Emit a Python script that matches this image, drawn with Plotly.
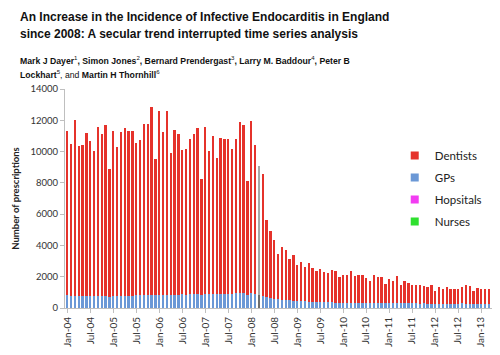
import plotly.graph_objects as go
import pandas as pd

# ---------------- data ----------------
months = [d.strftime("%b-%y") for d in pd.date_range("2004-01-01", "2013-05-01", freq="MS")]
tick_labels = months[::6]

gps = [
    800, 780, 790, 760, 770, 760, 750, 740, 770, 760, 770, 730,
    750, 770, 780, 790, 770, 780, 800, 810, 820, 830, 850, 800,
    840, 830, 860, 850, 840, 860, 870, 850, 880, 890, 900, 830,
    890, 870, 890, 900, 880, 910, 890, 910, 930, 940, 960, 860,
    970, 910, 830, 760, 700, 640, 590, 560, 540, 510, 490, 460,
    450, 430, 420, 410, 400, 390, 380, 370, 380, 360, 350, 340,
    350, 340, 330, 340, 330, 320, 330, 320, 310, 320, 310, 300,
    310, 300, 310, 300, 290, 300, 290, 290, 280, 290, 280, 270,
    270, 280, 270, 280, 270, 270, 280, 290, 280, 270, 280, 270,
    280, 270, 280, 270, 280,
]

dentists = [
    10500, 9720, 11210, 9590, 9630, 10440, 9900, 9320, 10780, 10360, 10950, 8170,
    10590, 9540, 10470, 10710, 10530, 10520, 9750, 9930, 10940, 10930, 11980, 8700,
    11730, 10420, 11710, 9040, 10540, 10260, 9230, 9290, 9900, 10230, 10600, 7400,
    10700, 9150, 10110, 8710, 9990, 9910, 9930, 9280, 9890, 10950, 10760, 7260,
    10960, 9490, 8270, 7830, 4920, 4270, 3750, 2890, 3340, 3200, 2660, 2910,
    2280, 2510, 2230, 2450, 2160, 2000, 2100, 1960, 1840, 2070, 2040, 1660,
    1740, 1750, 2010, 1710, 1760, 1770, 1590, 1430, 1820, 1640, 1650, 1230,
    1520, 1400, 1740, 1150, 1410, 1320, 1160, 1160, 1210, 1120, 1080, 1180,
    840, 1080, 970, 1040, 920, 920, 910, 1030, 1170, 1140, 790, 1010,
    960, 970, 960, 920, 1000,
]

hospitals = [0] * len(months)
nurses = [0] * len(months)

highlight_month = "Mar-08"

# ---------------- styles ----------------
RED = "#e5322b"
BLUE = "#6b98d6"
PINK = "#f23cf2"
GREEN = "#2fe02f"
HL_TOP = "#a9a9a9"
HL_BOT = "#6e6e6e"

dent_colors = [HL_TOP if m == highlight_month else RED for m in months]
gp_colors = [HL_BOT if m == highlight_month else BLUE for m in months]

fig = go.Figure()
fig.add_bar(x=months, y=gps, name="GPs", marker=dict(color=gp_colors, line_width=0),
            showlegend=False, legendgroup="g")
fig.add_bar(x=months, y=dentists, name="Dentists", marker=dict(color=dent_colors, line_width=0),
            showlegend=False, legendgroup="d")
fig.add_bar(x=months, y=hospitals, name="Hopsitals", marker=dict(color=PINK, line_width=0),
            showlegend=False, legendgroup="h")
fig.add_bar(x=months, y=nurses, name="Nurses", marker=dict(color=GREEN, line_width=0),
            showlegend=False, legendgroup="n")

# legend entries (small square keys)
for name, col, grp in [("Dentists", RED, "d"), ("GPs", BLUE, "g"),
                       ("Hopsitals", PINK, "h"), ("Nurses", GREEN, "n")]:
    fig.add_scatter(x=[None], y=[None], mode="markers", name=name, legendgroup=grp,
                    marker=dict(symbol="square", size=8, color=col))

fig.update_layout(
    width=500, height=355,
    margin=dict(l=57, r=8, t=81, b=55),
    paper_bgcolor="white", plot_bgcolor="white",
    barmode="stack", bargap=0.4,
    font=dict(family="Lato, Liberation Sans, sans-serif", color="#333333"),
    legend=dict(x=0.758, y=0.763, xanchor="left", yanchor="top",
                font=dict(size=11.5, family="Lato, sans-serif", color="#222222"),
                tracegroupgap=3, bgcolor="rgba(0,0,0,0)"),
    showlegend=True,
)

fig.update_xaxes(
    type="category", categoryorder="array", categoryarray=months,
    range=[-0.6, len(months) - 0.1],
    tickmode="array", tickvals=tick_labels, ticktext=tick_labels,
    tickangle=-90, tickfont=dict(size=10, color="#333333"),
    ticks="outside", ticklen=4, tickcolor="#bfbfbf",
    showline=True, linecolor="#bfbfbf", linewidth=1,
    showgrid=False, zeroline=False,
)
fig.update_yaxes(
    range=[0, 14000], tickmode="linear", tick0=0, dtick=2000, tickformat="d",
    tickfont=dict(size=9.5, color="#333333"),
    ticks="outside", ticklen=4, tickcolor="#bfbfbf",
    showline=True, linecolor="#bfbfbf", linewidth=1,
    showgrid=False, zeroline=False,
    title=dict(text="<b>Number of prescriptions</b>", font=dict(size=9.5, color="#222222"),
               standoff=9),
)

TFONT = dict(family="Liberation Sans, Arial, sans-serif", size=12, color="#111111")
AFONT = dict(family="Liberation Sans, Arial, sans-serif", size=8.7, color="#111111")
ann = [
    ("<b>An Increase in the Incidence of Infective Endocarditis in England</b>", 9, TFONT),
    ("<b>since 2008: A secular trend interrupted time series analysis</b>", 26, TFONT),
    ("<b>Mark J Dayer</b><sup>1</sup><b>, Simon Jones</b><sup>2</sup><b>, Bernard Prendergast</b><sup>3</sup><b>, "
     "Larry M. Baddour</b><sup>4</sup><b>, Peter B</b>", 52, AFONT),
    ("<b>Lockhart</b><sup>5</sup>, and <b>Martin H Thornhill</b><sup>6</sup>", 66, AFONT),
]
for text, ypix, f in ann:
    fig.add_annotation(text=text, xref="paper", yref="paper",
                       x=-57 / 435 + 10 / 435, xanchor="left",
                       y=1 + (81 - ypix) / 219, yanchor="middle",
                       showarrow=False, font=f, align="left")

fig.write_html("out.html")
